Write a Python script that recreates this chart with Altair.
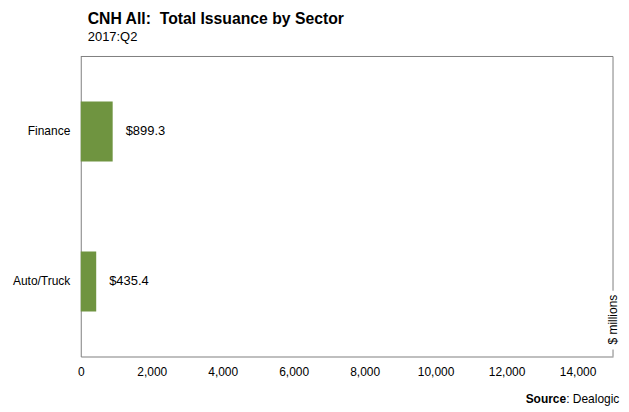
import altair as alt
import pandas as pd

sectors = ["Finance", "Auto/Truck"]
values = [899.3, 435.4]
x_ticks = [0, 2000, 4000, 6000, 8000, 10000, 12000, 14000]

df = pd.DataFrame({"Sector": sectors, "Value": values})
df["Label"] = ["$" + f"{v:,.1f}" for v in values]

FONT = "Liberation Sans"
W, H = 534, 301
GREEN = "#6F9440"
GRAY = "#808080"

base = alt.Chart(df)

xenc = alt.X("Value:Q", scale=alt.Scale(domain=[0, 15000], nice=False),
             axis=alt.Axis(values=x_ticks, format=",.0f", title=None, grid=False,
                           ticks=False, domainColor=GRAY, labelFont=FONT,
                           labelFontSize=12, labelColor="#000000", labelPadding=10,
                           labelFlush=False))
yenc = alt.Y("Sector:N", sort=sectors,
             scale=alt.Scale(paddingInner=0.6, paddingOuter=0.3),
             axis=alt.Axis(title=None, ticks=False, domainColor=GRAY, labelFont=FONT,
                           labelFontSize=12, labelColor="#000000", labelPadding=11))

bars = base.mark_bar(color=GREEN, size=60).encode(x=xenc, y=yenc)
labels = base.mark_text(align="left", dx=13, font=FONT, fontSize=13, color="#000000").encode(
    x=xenc, y=yenc, text="Label:N")

one = pd.DataFrame({"k": [0]})
top_rule = alt.Chart(one).mark_rule(color=GRAY).encode(
    x=alt.value(0), x2=alt.value(W), y=alt.value(0))
right_rule1 = alt.Chart(one).mark_rule(color=GRAY).encode(
    x=alt.value(W), y=alt.value(0), y2=alt.value(235))
right_rule2 = alt.Chart(one).mark_rule(color=GRAY).encode(
    x=alt.value(W), y=alt.value(294), y2=alt.value(H))

def txt(s, x, y, **kw):
    return alt.Chart(pd.DataFrame({"t": [s]})).mark_text(font=FONT, color="#000000", **kw).encode(
        x=alt.value(x), y=alt.value(y), text="t:N")

title = txt("CNH All:\u00a0 Total Issuance by Sector", 7, -32.5, align="left",
            baseline="alphabetic", fontSize=15.8, fontWeight="bold")
subtitle = txt("2017:Q2", 7, -16, align="left", baseline="alphabetic", fontSize=13)
units = txt("$ millions", W, 264, angle=270, fontSize=12, baseline="middle", align="center")
src1 = txt("Source", 487, 344, align="right", baseline="middle", fontSize=12, fontWeight="bold")
src2 = txt(": Dealogic", 487, 344, align="left", baseline="middle", fontSize=12)

chart = alt.layer(bars, labels, top_rule, right_rule1, right_rule2,
                  title, subtitle, units, src1, src2).properties(
    width=W, height=H,
    autosize=alt.AutoSizeParams(type="none"),
    padding={"left": 73, "top": 48, "right": 8, "bottom": 50},
).configure_view(stroke=None)

chart.save("out.html", embed_options={"renderer": "svg", "actions": False})
